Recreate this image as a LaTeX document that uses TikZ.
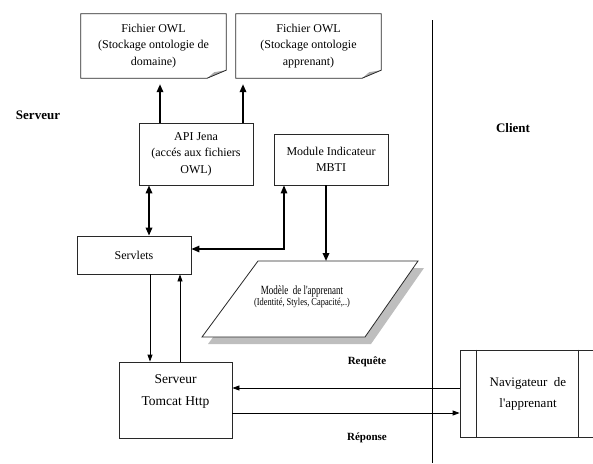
\documentclass[tikz,border=0pt]{standalone}
\usepackage{fontspec}
\setmainfont{Liberation Serif}
\usetikzlibrary{arrows.meta,calc}
\definecolor{shadowgray}{RGB}{190,190,190}
\definecolor{foldgray}{RGB}{170,170,170}
\definecolor{edgegray}{RGB}{40,40,40}
\newcommand{\q}{\textquotesingle}
\begin{document}
\begin{tikzpicture}[x=1pt,y=-1pt,
  box/.style={draw=edgegray, line width=0.8pt, inner sep=0pt, align=center,
    font=\fontsize{12}{16.5}\selectfont},
  doc/.style={inner sep=0pt, align=center, font=\fontsize{12}{16.5}\selectfont},
  side/.style={font=\fontsize{13}{15}\selectfont\bfseries},
  msg/.style={font=\fontsize{11}{13}\selectfont\bfseries},
  thickarr/.style={line width=1.7pt, -{Triangle[length=8pt,width=6.5pt]}},
  thickdbl/.style={line width=1.7pt, {Triangle[length=8pt,width=6.5pt]}-{Triangle[length=8pt,width=6.5pt]}},
  thinarr/.style={line width=0.8pt, -{Triangle[length=7pt,width=5pt]}}
]
\useasboundingbox (0,0) rectangle (593,463);
\clip (0,0) rectangle (593,463);

% side labels
\node[side] (serveur) at (38,115) {Serveur};
\node[side] (client) at (513,128) {Client};

% OWL documents
\node[doc, minimum width=145pt, minimum height=64pt] (f1) at (153.5,46)
  {Fichier OWL\\(Stockage ontologie de\\domaine)};
\node[doc, minimum width=145pt, minimum height=64pt] (f2) at (308.5,46)
  {Fichier OWL\\(Stockage ontologie\\apprenant)};
\foreach \n in {f1,f2} {
  \fill[foldgray] ($(\n.south east)+(-19,0)$) -- ($(\n.south east)+(0,-8)$) -- ($(\n.south east)+(-12,-6)$) -- cycle;
  \draw[edgegray, line width=0.8pt] ($(\n.south east)+(-19,0)$) -- (\n.south west) -- (\n.north west)
     -- (\n.north east) -- ($(\n.south east)+(0,-8)$) -- cycle;
}

% boxes
\node[box, minimum width=114pt, minimum height=62pt] (api) at (196,154)
  {API Jena\\(accés aux fichiers\\OWL)};
\node[box, minimum width=114pt, minimum height=51pt] (mbti) at (331,159.5)
  {Module Indicateur\\MBTI};
\node[box, minimum width=114pt, minimum height=38pt] (servlets) at (134,255)
  {Servlets};
\node[box, minimum width=113pt, minimum height=76pt,
  label={[anchor=north, align=center, yshift=-13pt, inner sep=0pt,
          font=\fontsize{13.5}{22}\selectfont]north:{Serveur\\Tomcat Http}}] (tomcat) at (175.5,400) {};
\node[box, minimum width=140pt, minimum height=87pt, font=\fontsize{13}{21}\selectfont]
  (nav) at (530,393.5) {\hspace*{-4pt}Navigateur\enspace de\\\hspace*{-4pt}l\q apprenant};
\draw[edgegray, line width=0.8pt] ($(nav.north west)+(17,0)$) -- ($(nav.south west)+(17,0)$);
\draw[edgegray, line width=0.8pt] ($(nav.north east)+(-22,0)$) -- ($(nav.south east)+(-22,0)$);

% learner model (parallelogram with shadow)
\coordinate (p1) at (258,261);
\coordinate (p2) at (418,261);
\coordinate (p3) at (365,337);
\coordinate (p4) at (202,337);
\fill[shadowgray] ($(p1)+(6,7)$) -- ($(p2)+(6,7)$) -- ($(p3)+(6,7)$) -- ($(p4)+(6,7)$) -- cycle;
\draw[edgegray, line width=0.8pt, fill=white] (p1) -- (p2) -- (p3) -- (p4) -- cycle;
\node[align=center, inner sep=0pt] (model) at (302,297)
  {\scalebox{0.72}[1]{\fontsize{12.5}{12}\selectfont Modèle\enspace de l\q apprenant}\\[-1pt]
   \scalebox{0.8}[1]{\fontsize{10.5}{12}\selectfont (Identité, Styles, Capacité,..)}};
\coordinate (ptop) at (326,261);

% separator
\coordinate (v1) at (432,20);
\coordinate (v2) at (432,463);
\draw[line width=0.8pt] (v1) -- (v2);

% x positions for connectors
\coordinate (xa) at (160,0);
\coordinate (xb) at (243,0);
\coordinate (xc) at (149,0);
\coordinate (xd) at (284,0);
\coordinate (xe) at (326,0);
\coordinate (xf) at (150,0);
\coordinate (xg) at (180,0);
\coordinate (yh) at (0,249);
\coordinate (yi) at (0,388);
\coordinate (yj) at (0,413);

% connectors
\draw[thickarr, shorten >=6pt] (api.north -| xa) -- (f1.south -| xa);
\draw[thickarr, shorten >=6pt] (api.north -| xb) -- (f2.south -| xb);
\draw[thickdbl] (api.south -| xc) -- (servlets.north -| xc);
\draw[line width=1.3pt, {Triangle[length=8pt,width=6.5pt]}-{Triangle[length=8pt,width=6.5pt]}]
  (mbti.south -| xd) -- (xd |- yh) -- (servlets.east |- yh);
\draw[thickarr] (mbti.south -| xe) -- (ptop);
\draw[thinarr] (servlets.south -| xf) -- (tomcat.north -| xf);
\draw[thinarr] (tomcat.north -| xg) -- (servlets.south -| xg);
\draw[thinarr] (nav.west |- yi) -- (tomcat.east |- yi);
\draw[thinarr] (tomcat.east |- yj) -- (nav.west |- yj);

% message labels
\node[msg] (req) at (367,362) {Requête};
\node[msg] (rep) at (367,438) {Réponse};
\end{tikzpicture}
\end{document}
